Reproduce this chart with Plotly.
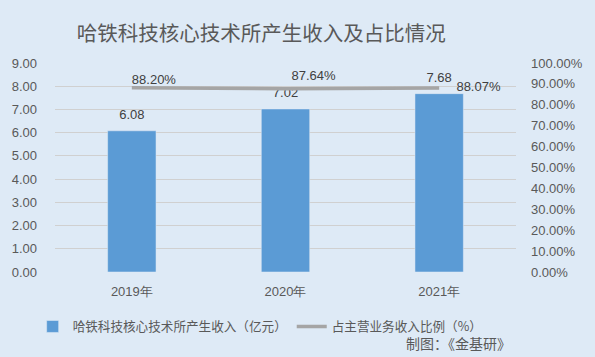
import plotly.graph_objects as go

years = ["2019年", "2020年", "2021年"]
income = [6.08, 7.02, 7.68]
ratio = [88.20, 87.64, 88.07]
ratio_labels = ["88.20%", "87.64%", "88.07%"]
left_ticks = [0, 1, 2, 3, 4, 5, 6, 7, 8, 9]
right_ticks = [0, 10, 20, 30, 40, 50, 60, 70, 80, 90, 100]

FONT = "Noto Sans CJK SC, Noto Sans, sans-serif"
NUMFONT = "Liberation Sans, Noto Sans, sans-serif"
GRAY = "#595959"
BG = "#DEEAF6"

fig = go.Figure()
fig.add_trace(go.Bar(
    x=years, y=income, name="哈铁科技核心技术所产生收入（亿元）",
    marker=dict(color="#5B9BD5"), width=0.315,
    hoverinfo="skip",
))
# value labels for the bars (invisible markers give the offset above each bar)
fig.add_trace(go.Scatter(
    x=years, y=income, mode="markers+text", showlegend=False,
    marker=dict(size=12, opacity=0),
    text=[f"{v:.2f}" for v in income], textposition="top center",
    textfont=dict(family=NUMFONT, size=13, color="#404040"),
    cliponaxis=False, hoverinfo="skip",
))
fig.add_trace(go.Scatter(
    x=years, y=ratio, name="占主营业务收入比例（%）", yaxis="y2",
    mode="lines", line=dict(color="#A5A5A5", width=3.5),
))
# labels for the ratio line
fig.add_trace(go.Scatter(
    x=years, y=ratio, yaxis="y2", mode="markers+text", showlegend=False,
    marker=dict(size=[0, 8, 26], opacity=0),
    text=ratio_labels, textposition=["top right", "top right", "middle right"],
    textfont=dict(family=NUMFONT, size=13, color="#404040"),
    cliponaxis=False, hoverinfo="skip",
))

fig.update_layout(
    width=595, height=357,
    paper_bgcolor=BG, plot_bgcolor=BG,
    margin=dict(l=52, r=76, t=63, b=85),
    title=dict(text="哈铁科技核心技术所产生收入及占比情况", xref="paper", x=0.4475,
               xanchor="center", y=0.905, yanchor="middle",
               font=dict(family=FONT, size=20.5, color=GRAY)),
    font=dict(family=FONT, color=GRAY),
    xaxis=dict(tickfont=dict(family=NUMFONT, size=13, color=GRAY), showgrid=False,
               ticks="", showline=False, ticklabelstandoff=10),
    yaxis=dict(range=[0, 9], tickvals=left_ticks, ticktext=[f"{v:.2f}" for v in left_ticks],
               tickfont=dict(family=NUMFONT, size=13, color=GRAY),
               gridcolor="#D0D0D0", gridwidth=1, zeroline=False, ticklabelstandoff=17),
    yaxis2=dict(range=[0, 100], overlaying="y", side="right", tickvals=right_ticks,
                ticktext=[f"{v:.2f}%" for v in right_ticks],
                tickfont=dict(family=NUMFONT, size=13, color=GRAY),
                showgrid=False, zeroline=False, ticklabelstandoff=14),
    legend=dict(orientation="h", x=0.445, xanchor="center", y=-0.262, yanchor="middle",
                font=dict(family=FONT, size=12.6, color=GRAY), bgcolor="rgba(0,0,0,0)",
                itemwidth=30),
    annotations=[dict(text="制图：《金基研》", xref="paper", yref="paper",
                      x=0.994, y=-0.34, xanchor="right", yanchor="middle", showarrow=False,
                      font=dict(family=FONT, size=14, color=GRAY))],
)

fig.write_html("out.html", post_script="document.body.style.margin='0';",
               config={"displayModeBar": False})
